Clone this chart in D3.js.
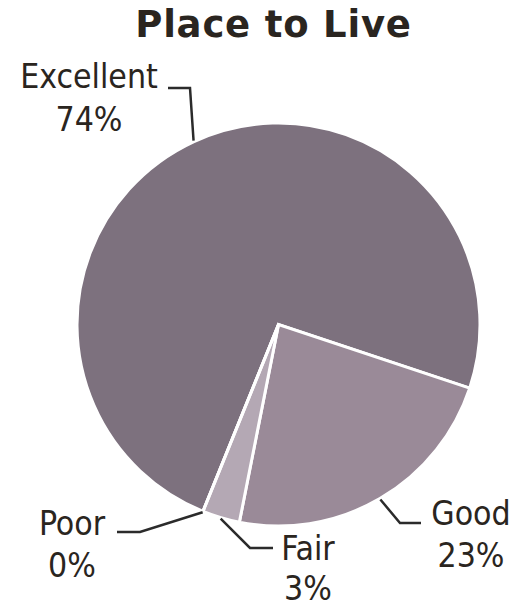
<!DOCTYPE html>
<html>
<head>
<meta charset="utf-8">
<script src="https://cdn.jsdelivr.net/npm/d3@7/dist/d3.min.js"></script>
<style>
  html, body { margin: 0; padding: 0; background: #fff; }
  svg { display: block; }
</style>
</head>
<body>
<svg id="chart" width="530" height="607"></svg>
<script>
// ---- data ----
const title = "Place to Live";
const categories = ["Excellent", "Good", "Fair", "Poor"];
const values = [74, 23, 3, 0];
const colors = ["#7d717e", "#9a8a98", "#b4a8b4", "#c8bec8"];

// ---- label layout (elbow / end of leader, text anchor, line gap) ----
const labelLayout = [
  { elbow: [190, 88],  end: [168, 88],  text: [89, 88],  gap: 43 },
  { elbow: [400, 523], end: [421, 523], text: [471, 525], gap: 42 },
  { elbow: [250, 548], end: [273, 548], text: [308, 560], gap: 40 },
  { elbow: [140, 532], end: [117, 532], text: [72, 535],  gap: 42 }
];

const svg = d3.select("#chart");
const cx = 278.5, cy = 324.5, R = 201.5;
const textColor = "#2a2520";

svg.append("text")
  .attr("x", 273.5).attr("y", 37)
  .attr("text-anchor", "middle")
  .attr("font-family", "'DejaVu Sans', sans-serif")
  .attr("font-weight", "bold")
  .attr("font-size", 37)
  .attr("letter-spacing", 0.8)
  .attr("fill", textColor)
  .text(title);

const data = categories.map((c, i) => ({ cat: c, value: values[i], color: colors[i], layout: labelLayout[i] }));

const start = 202 * Math.PI / 180;
const pie = d3.pie().sort(null).value(d => d.value)
  .startAngle(start).endAngle(start + 2 * Math.PI);
const arcs = pie(data);

const arc = d3.arc().innerRadius(0).outerRadius(R);
const edgeArc = d3.arc().innerRadius(R + 1).outerRadius(R + 1);

const g = svg.append("g").attr("transform", `translate(${cx},${cy})`);
g.selectAll("path.slice")
  .data(arcs)
  .join("path")
  .attr("class", "slice")
  .attr("d", arc)
  .attr("fill", d => d.data.color)
  .attr("stroke", "#fff")
  .attr("stroke-width", 3)
  .attr("stroke-linejoin", "miter");

// leader lines + labels
arcs.forEach(a => {
  const c = edgeArc.centroid(a);
  const p0 = [cx + c[0], cy + c[1]];
  const L = a.data.layout;
  svg.append("polyline")
    .attr("points", [p0, L.elbow, L.end].map(p => p.join(",")).join(" "))
    .attr("fill", "none")
    .attr("stroke", "#2b2b2b")
    .attr("stroke-width", 2.5);
  const t = svg.append("text")
    .attr("text-anchor", "middle")
    .attr("font-family", "'DejaVu Sans Condensed', 'DejaVu Sans', sans-serif")
    .attr("font-stretch", "condensed")
    .attr("font-size", 33.5)
    .attr("fill", textColor);
  t.append("tspan").attr("x", L.text[0]).attr("y", L.text[1]).text(a.data.cat);
  t.append("tspan").attr("x", L.text[0]).attr("y", L.text[1] + L.gap).text(a.data.value + "%");
});
</script>
</body>
</html>
